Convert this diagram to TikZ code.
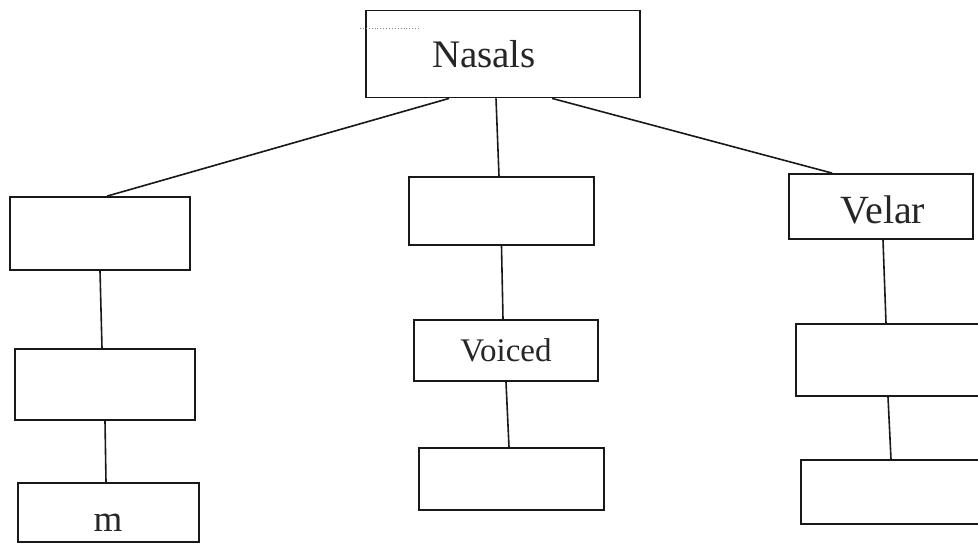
\documentclass[tikz,border=0pt]{standalone}
\usepackage{fontspec}
\setmainfont{Liberation Serif}
\begin{document}
\begin{tikzpicture}[x=1pt,y=-1pt,
  box/.style={draw=black!90,line width=1.8pt,rectangle,inner sep=0pt},
  link/.style={draw=black!90,line width=1.6pt},
  lbl/.style={inner sep=0pt,text=black!85}]
\clip (0,0) rectangle (978,549);
\useasboundingbox (0,0) rectangle (978,549);
\fill[white] (0,0) rectangle (978,549);

% top node
\node[box,minimum width=274pt,minimum height=87pt] (nasals) at (503,54) {};
\node[lbl,font=\fontsize{39}{41}\selectfont] (nasalsT) at (484,54) {Nasals};
\draw[gray,dotted,line width=0.9pt] (360,28) -- (420,28);

% left column
\node[box,minimum width=180pt,minimum height=73pt] (l1) at (100,233.5) {};
\node[box,minimum width=180pt,minimum height=71pt] (l2) at (105,384.5) {};
\node[box,minimum width=181pt,minimum height=59pt] (l3) at (108.5,512.5) {};
\node[lbl,font=\fontsize{37}{40}\selectfont] (l3T) at (108,523) {m};

% middle column
\node[box,minimum width=185pt,minimum height=68pt] (m1) at (501.5,211) {};
\node[box,minimum width=184pt,minimum height=61pt] (m2) at (506,350.5) {};
\node[lbl,font=\fontsize{33}{35}\selectfont] (m2T) at (506,350) {Voiced};
\node[box,minimum width=185pt,minimum height=62pt] (m3) at (511.5,479) {};

% right column
\node[box,minimum width=184pt,minimum height=65pt] (r1) at (881,206.5) {};
\node[lbl,font=\fontsize{40}{42}\selectfont] (r1T) at (883,210) {Velar};
\node[box,minimum width=194pt,minimum height=72pt] (r2) at (893,360) {};
\node[box,minimum width=190pt,minimum height=64pt] (r3) at (896,492) {};

% branches from the top node
\draw[link] ([xshift=84pt]nasals.south west) -- ([xshift=98pt]l1.north west);
\draw[link] ([xshift=-7pt]nasals.south) -- ([xshift=-2.5pt]m1.north);
\draw[link] ([xshift=187pt]nasals.south west) -- ([xshift=44pt]r1.north west);

% vertical links in each column
\draw[link] (l1.south) -- ([xshift=-3pt]l2.north);
\draw[link] (l2.south) -- ([xshift=-2.5pt]l3.north);
\draw[link] (m1.south) -- ([xshift=-3pt]m2.north);
\draw[link] (m2.south) -- ([xshift=-2.5pt]m3.north);
\draw[link] ([xshift=2pt]r1.south) -- ([xshift=-7pt]r2.north);
\draw[link] ([xshift=-5pt]r2.south) -- ([xshift=-5pt]r3.north);
\end{tikzpicture}
\end{document}
